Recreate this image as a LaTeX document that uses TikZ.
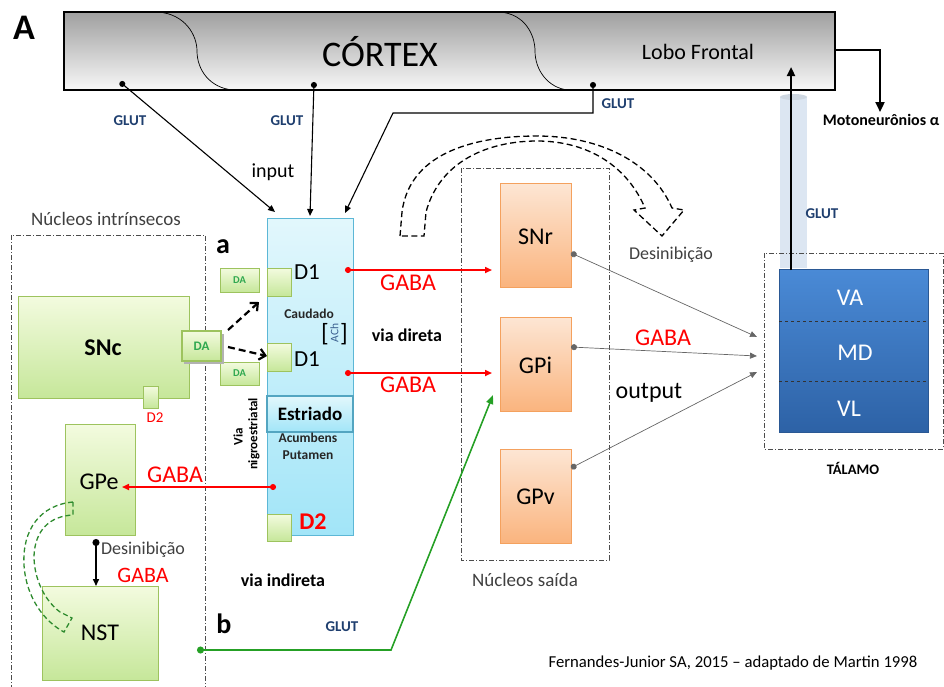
\documentclass[tikz,border=0pt]{standalone}
\usepackage{fontspec}
\setmainfont{Carlito}
\usetikzlibrary{arrows.meta}
\definecolor{glut}{HTML}{1F3F6F}
\definecolor{txtgray}{HTML}{404040}
\definecolor{grnT}{HTML}{F3FBDF}
\definecolor{grnB}{HTML}{C6E79A}
\definecolor{grnD}{HTML}{9DC35E}
\definecolor{orT}{HTML}{FDE6D4}
\definecolor{orB}{HTML}{FAB47E}
\definecolor{orD}{HTML}{F4A15E}
\definecolor{cyT}{HTML}{E2F7FC}
\definecolor{cyB}{HTML}{A2E5F8}
\definecolor{cyD}{HTML}{5CB7D6}
\definecolor{thT}{HTML}{4A8AD6}
\definecolor{thB}{HTML}{2D62A6}
\definecolor{thD}{HTML}{2A5894}
\definecolor{colbl}{HTML}{DCE6F2}
\definecolor{dagreen}{HTML}{2FA84F}
\definecolor{glgreen}{HTML}{25A025}
\definecolor{dgreen}{HTML}{2E8B2E}
\definecolor{achblue}{HTML}{3A5F8F}
\newcommand\fsz[1]{\fontsize{#1}{#1}\selectfont}
\begin{document}
\begin{tikzpicture}[x=1pt,y=-1pt,
  every node/.style={inner sep=0pt,outer sep=0pt},
  greenbox/.style={draw=grnD,line width=1pt,top color=grnT,bottom color=grnB},
  orangebox/.style={draw=orD,line width=1pt,top color=orT,bottom color=orB},
  cyanbox/.style={draw=cyD,line width=1pt,top color=cyT,bottom color=cyB},
  dashdot/.style={draw=black!70,line width=0.8pt,dash pattern=on 5pt off 2pt on 1pt off 2pt},
  dottip/.style={{Circle[length=6pt]}-{Triangle[length=7pt,width=6pt]}},
  redarrow/.style={dottip,draw=red,line width=1.6pt},
  outarrow/.style={{Circle[length=6pt]}-{Triangle[length=7pt,width=6pt]},draw=black!60,line width=0.7pt},
  glutlbl/.style={text=glut,font=\fsz{15}\bfseries},
  gabalbl/.style={text=red,font=\fsz{24}},
  graylbl/.style={text=txtgray}]
\useasboundingbox (0,0) rectangle (944,686);

% ---------- cortex ----------
\node[draw,line width=2pt,top color=gray!75,bottom color=gray!6,minimum width=771pt,minimum height=78pt] (cortex) at (449.5,51) {};
\draw[line width=0.7pt] (158,12) .. controls (185,14) and (197,35) .. (197,51) .. controls (197,70) and (210,88) .. (233,90);
\draw[line width=0.7pt] (500,12) .. controls (525,14) and (535,35) .. (535,51) .. controls (535,70) and (548,88) .. (568,90);
\node[font=\fsz{36}] (ctxt) at (380,52) {CÓRTEX};
\node[font=\fsz{22}] (lobo) at (698,52) {Lobo Frontal};
\node[font=\fsz{36}\bfseries] (A) at (24,28) {A};

% light blue column
\fill[colbl] (780,97) rectangle (807,268);
\fill[colbl!85!gray] (793.5,97) ellipse (13.5pt and 3pt);

% ---------- dashed groups ----------
\draw[dashdot] (11,690) -- (11,235) -- (205,235) -- (205,690);
\draw[dashdot] (461,168) rectangle (609,560);
\draw[dashdot] (764,253) rectangle (943,449);
\node[graylbl,font=\fsz{19}] (nint) at (106,219) {Núcleos intrínsecos};
\node[graylbl,font=\fsz{19}] (nsai) at (525,580) {Núcleos saída};

% ---------- striatum ----------
\node[cyanbox,minimum width=86pt,minimum height=317pt] (str) at (310,376.5) {};
\node[cyanbox,draw=cyD!90!black,line width=1.2pt,minimum width=86pt,minimum height=36pt] (estr) at (310,414) {};
\node[font=\fsz{19}\bfseries] at (estr.center) {Estriado};
\node[greenbox,minimum width=24pt,minimum height=28pt] (d1a) at (279,282) {};
\node[greenbox,minimum width=24pt,minimum height=28pt] (d1b) at (279,357) {};
\node[greenbox,minimum width=24pt,minimum height=27pt] (d2s) at (279,527.5) {};
\node[font=\fsz{23}] (d1at) at (307,272) {D1};
\node[font=\fsz{23}] (d1bt) at (307,359) {D1};
\node[font=\fsz{13.5}\bfseries,text=black!85] (caud) at (309,314) {Caudado};
\node[font=\fsz{25}] (brl) at (325,334) {[};
\node[font=\fsz{25}] (brr) at (344,334) {]};
\node[font=\fsz{11.5},text=achblue,rotate=90] (ach) at (334.5,333) {ACh};
\node[font=\fsz{13.5}\bfseries,text=black!85] (acum) at (308,438) {Acumbens};
\node[font=\fsz{13.5}\bfseries,text=black!85] (put) at (308,455) {Putamen};
\node[font=\fsz{24}\bfseries,text=red] (d2t) at (313,522) {D2};
\node[font=\fsz{13}\bfseries,rotate=90] (via1) at (238,437) {Via};
\node[font=\fsz{13}\bfseries,rotate=90] (via2) at (254,434) {nigroestriatal};

% ---------- DA boxes ----------
\node[greenbox,minimum width=39pt,minimum height=24pt] (da1) at (239.5,280) {};
\node[font=\fsz{10.5}\bfseries,text=dagreen] at (da1.center) {DA};
\node[greenbox,minimum width=39pt,minimum height=23pt] (da2) at (239.5,373.5) {};
\node[font=\fsz{10.5}\bfseries,text=dagreen] at (da2.center) {DA};

% ---------- SNc, GPe, NST ----------
\node[greenbox,minimum width=171pt,minimum height=102pt] (snc) at (103.5,347) {};
\node[font=\fsz{24}\bfseries] at (103,348) {SNc};
\node[greenbox,minimum width=15pt,minimum height=22pt] (snd2) at (150.5,397) {};
\node[font=\fsz{15},text=red] (snd2t) at (155,418) {D2};
\fill[black!30] (184,334) rectangle (224,364);
\node[greenbox,line width=1.2pt,minimum width=39pt,minimum height=30pt] (dabig) at (201.5,346) {};
\node[font=\fsz{13}\bfseries,text=dagreen] at (dabig.center) {DA};
\node[greenbox,minimum width=70pt,minimum height=111pt] (gpe) at (100,479.5) {};
\node[font=\fsz{24}] at (99,482) {GPe};
\node[greenbox,minimum width=116pt,minimum height=94pt] (nst) at (100,633) {};
\node[font=\fsz{24}] at (100,633) {NST};

\node[font=\fsz{28}\bfseries] (la) at (223,247) {a};
\node[font=\fsz{28}\bfseries] (lb) at (224,624) {b};

% ---------- output nuclei ----------
\node[orangebox,minimum width=71pt,minimum height=104pt] (snr) at (535.5,235) {};
\node[font=\fsz{24}] at (535.5,237) {SNr};
\node[orangebox,minimum width=71pt,minimum height=94pt] (gpi) at (535.5,364) {};
\node[font=\fsz{24}] at (535.5,365) {GPi};
\node[orangebox,minimum width=71pt,minimum height=94pt] (gpv) at (535.5,496) {};
\node[font=\fsz{24}] at (535.5,497) {GPv};

% ---------- thalamus ----------
\node[draw=thD,line width=1pt,top color=thT,bottom color=thB,minimum width=149pt,minimum height=163pt] (tal) at (853.5,350.5) {};
\draw[black!80,dashed,line width=0.9pt] (779,321) -- (928,321);
\draw[black!80,dashed,line width=0.9pt] (779,381) -- (928,381);
\node[font=\fsz{24},text=white] (va) at (850,298) {VA};
\node[font=\fsz{24},text=white] (md) at (855,353) {MD};
\node[font=\fsz{24},text=white] (vl) at (849,409) {VL};
\node[font=\fsz{14.5}\bfseries] (talt) at (853,468) {TÁLAMO};

% ---------- coordinates ----------
\coordinate (c1) at (120,82);
\coordinate (c2) at (314,82);
\coordinate (c3) at (593,82);
\coordinate (c3a) at (593,113);
\coordinate (c3b) at (393,113);
\coordinate (s1) at (275,212);
\coordinate (s2) at (310,216);
\coordinate (s3) at (345,213);
\coordinate (ta) at (791,270);
\coordinate (tb) at (791,67);
\coordinate (m0) at (835,50);
\coordinate (m1) at (880,50);
\coordinate (m2) at (880,112);
\coordinate (r1) at (345,270);
\coordinate (r1e) at (492,270);
\coordinate (r2) at (345,373);
\coordinate (r2e) at (492,373);
\coordinate (r3) at (276,487);
\coordinate (r3e) at (122,487);
\coordinate (o1) at (571,253);
\coordinate (o2) at (571,347);
\coordinate (o3) at (571,468);
\coordinate (t1) at (757,337);
\coordinate (t2) at (757,356);
\coordinate (t3) at (757,372);
\coordinate (g0) at (197,650);
\coordinate (g1) at (391,650);
\coordinate (g2) at (493,395);
\coordinate (n0) at (96,539);
\coordinate (n1) at (96,586);
\coordinate (p1) at (228,330);
\coordinate (p1e) at (259,302);
\coordinate (p2) at (228,347);
\coordinate (p2e) at (267,356);

% ---------- cortex connectors ----------
\draw[{Circle[length=6pt]}-{Triangle[length=7pt,width=6pt]},line width=1.1pt] (c1) -- (s1);
\draw[{Circle[length=6pt]}-{Triangle[length=7pt,width=6pt]},line width=1.1pt] (c2) -- (s2);
\draw[{Circle[length=6pt]}-{Triangle[length=7pt,width=6pt]},line width=1.1pt] (c3) -- (c3a) -- (c3b) -- (s3);
\node[glutlbl] (gl1) at (130,121) {GLUT};
\node[glutlbl] (gl2) at (287,121) {GLUT};
\node[glutlbl] (gl3) at (618,104) {GLUT};
\node[font=\fsz{20}] (inp) at (273,172) {input};

% thalamus -> cortex, motor
\draw[line width=2.2pt,-{Triangle[length=9pt,width=8pt]}] (ta) -- (tb);
\node[glutlbl] (gl4) at (822,214) {GLUT};
\draw[line width=2.2pt,-{Triangle[length=10pt,width=9pt]}] (m0) -- (m1) -- (m2);
\node[font=\fsz{16}\bfseries] (mot) at (881,120) {Motoneurônios α};

% ---------- GABA connectors ----------
\draw[redarrow] (r1) -- (r1e);
\draw[redarrow] (r2) -- (r2e);
\draw[redarrow] (r3) -- (r3e);
\node[gabalbl] (gaba1) at (408,283) {GABA};
\node[gabalbl] (gaba2) at (408,385) {GABA};
\node[gabalbl] (gaba3) at (175,475) {GABA};
\node[font=\fsz{18}\bfseries] (vdir) at (407,335) {via direta};
\node[font=\fsz{18}\bfseries] (vind) at (283,580) {via indireta};

% DA dashed arrows
\draw[line width=2.2pt,dash pattern=on 7pt off 4pt,-{Straight Barb[length=6pt,width=11pt]}] (p1) -- (p1e);
\draw[line width=2.2pt,dash pattern=on 7pt off 4pt,-{Straight Barb[length=6pt,width=11pt]}] (p2) -- (p2e);

% GPe -> NST
\draw[{Circle[length=7pt]}-{Triangle[length=7pt,width=6pt]},line width=1.5pt] (n0) -- (n1);
\node[graylbl,font=\fsz{18}] (des1) at (143,550) {Desinibição};
\node[gabalbl,font=\fsz{22}] (gaba4) at (143,575) {GABA};

% green dashed curved arrow GPe -> NST
\draw[dgreen,line width=1.3pt,dash pattern=on 5pt off 3pt]
  (73,502) .. controls (40,505) and (22,530) .. (24,565)
  .. controls (26,598) and (45,622) .. (64,632)
  -- (72,618) -- (60,612)
  .. controls (44,600) and (34,578) .. (34,556)
  .. controls (35,530) and (50,516) .. (73,515) -- cycle;

% output arrows
\draw[outarrow] (o1) -- (t1);
\draw[outarrow] (o2) -- (t2);
\draw[outarrow] (o3) -- (t3);
\node[gabalbl] (gaba5) at (663,338) {GABA};
\node[font=\fsz{24}] (outp) at (649,393) {output};
\node[graylbl,font=\fsz{18}] (des2) at (671,255) {Desinibição};

% big dashed hollow arrow
\draw[line width=1.3pt,dash pattern=on 6pt off 3.5pt]
  (400,236) -- (402,212) .. controls (410,150) and (480,136) .. (537,136)
  .. controls (600,136) and (652,162) .. (672,208) -- (684,210) -- (662,236) -- (634,210) -- (645,208)
  .. controls (628,168) and (590,141) .. (537,141)
  .. controls (490,141) and (440,160) .. (426,212) -- (424,236) -- cycle;

% glutamate from NST
\draw[glgreen,line width=1.6pt,{Circle[length=7pt]}-{Triangle[length=9pt,width=7pt]}] (g0) -- (g1) -- (g2);
\node[glutlbl] (gl5) at (342,627) {GLUT};

% footer
\node[font=\fsz{16.7},text=black] (foot) at (733,663) {Fernandes-Junior SA, 2015 – adaptado de Martin 1998};
\end{tikzpicture}
\end{document}
